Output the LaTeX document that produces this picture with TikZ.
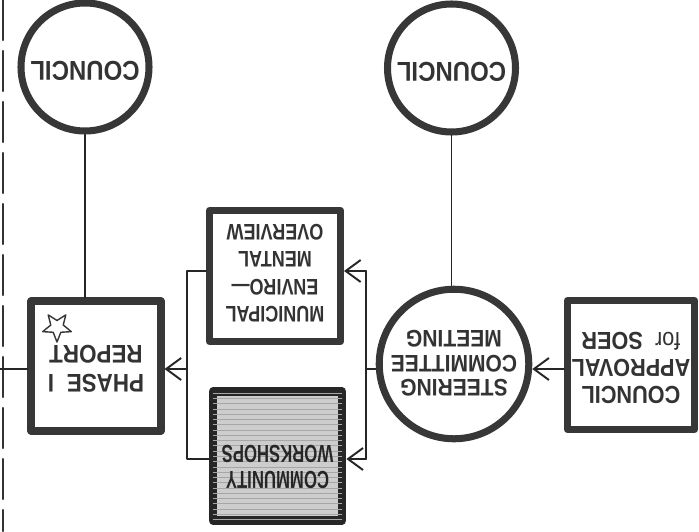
\documentclass[tikz,border=0pt]{standalone}
\usepackage{graphicx}
\usepackage{fontspec}
\usepackage{tikz}
\usetikzlibrary{arrows.meta,positioning,shapes.geometric,patterns,calc}
\newfontfamily\chartfont[FakeStretch=0.88]{Liberation Sans}
\newfontfamily\chartnarrow[FakeStretch=0.8]{Liberation Sans}
\newfontfamily\chartcond[FakeStretch=0.68]{Liberation Sans}
\definecolor{ink}{RGB}{55,55,55}
\definecolor{hatch}{RGB}{205,205,205}
% text of the chart is printed upside down
\newcommand{\flipped}[1]{\rotatebox[origin=c]{180}{\begin{tabular}{@{}c@{}}#1\end{tabular}}}
\tikzset{
  chart/box/.style={draw=ink, line width=4pt, fill=white, inner sep=0pt, minimum width=2.6cm, minimum height=2.6cm},
  chart/round/.style={draw=ink, line width=4pt, fill=white, circle, inner sep=0pt, minimum size=2.56cm},
  chart/line/.style={line width=1.1pt, draw=black!85},
  chart/arr/.style={chart/line, -{Straight Barb[length=3mm,width=4.4mm]}},
  chart/rule/.style={line width=1.2pt, draw=black!80, dash pattern=on 0.8cm off 0.22cm}
}
\begin{document}
\begin{tikzpicture}[x=1cm,y=1cm, line cap=round, line join=round]
\useasboundingbox (0,0) rectangle (13.98,-10.62);

% left margin rule
\draw[chart/rule] (0.06,0) -- (0.06,-10.62);

% top row
\node[chart/round, font=\chartfont\bfseries\fontsize{15.5}{16}\selectfont, text=black!80] (councilA) at (1.70,-1.34) {\flipped{COUNCIL}};
\node[chart/round, font=\chartfont\bfseries\fontsize{15.5}{16}\selectfont, text=black!80] (councilB) at (9.03,-1.36) {\flipped{COUNCIL}};

% middle row
\node[chart/box, font=\chartfont\bfseries\fontsize{14.5}{16.5}\selectfont, text=black!80] (phase) at (1.92,-7.32) {\flipped{PHASE\enspace I\\REPORT}};
\node[star, star points=5, star point ratio=2.3, draw=ink, line width=0.8pt, rotate=180, minimum size=0.6cm, inner sep=0pt] (star) at (1.14,-6.54) {};
\node[chart/box, font=\chartnarrow\bfseries\fontsize{12.8}{15.6}\selectfont, text=black!80, minimum width=2.62cm, minimum height=2.62cm] (municipal) at (5.50,-5.52) {\flipped{\rule{0pt}{0.58cm}MUNICIPAL\\ENVIRO\textemdash\\MENTAL\\OVERVIEW}};
\node[chart/box, draw=black!85, line width=5pt, fill=hatch, minimum width=2.58cm, minimum height=2.58cm,
      postaction={pattern=horizontal lines, pattern color=black!35}] (community) at (5.55,-9.12) {};
\node[font=\chartcond\bfseries\fontsize{14}{15}\selectfont, text=black!85] (communitytext) at (5.55,-9.28) {\flipped{COMMUNITY\\WORKSHOPS}};
\node[chart/round, minimum size=2.54cm, font=\chartfont\bfseries\fontsize{13.6}{13.8}\selectfont, text=black!80] (steering) at (9.08,-7.28) {\flipped{\rule{0pt}{0.5cm}STEERING\\COMMITTEE\\MEETING}};
\node[chart/box, minimum width=2.54cm, minimum height=2.58cm, font=\chartfont\bfseries\fontsize{14}{15.5}\selectfont, text=black!80] (approval) at (12.62,-7.30) {\flipped{COUNCIL\\APPROVAL\\{\mdseries for}\enspace SOER}};

% junctions
\coordinate (leftend) at (0,-7.38);
\coordinate (jL) at (3.74,-7.38);
\coordinate (jR) at (7.32,-7.38);
\coordinate (mjL) at (3.74,-5.42);
\coordinate (cjL) at (3.74,-9.18);
\coordinate (mjR) at (7.32,-5.42);
\coordinate (cjR) at (7.32,-9.18);

% connectors
\draw[chart/line] (councilA.south) -- (councilA.south |- phase.north);
\draw[chart/line] (councilB.south) -- (councilB.south |- steering.north);
\draw[chart/line] (leftend) -- (leftend -| phase.west);
\draw[chart/line] (municipal.west |- mjL) -- (mjL) -- (cjL) -- (community.west |- cjL);
\draw[chart/arr] (jL) -- (jL -| phase.east);
\draw[chart/line] (mjR) -- (cjR);
\draw[chart/arr] (mjR) -- (mjR -| municipal.east);
\draw[chart/arr] (cjR) -- (cjR -| community.east);
\draw[chart/line] (jR) -- (jR -| steering.west);
\draw[chart/arr] (jR -| approval.west) -- (jR -| steering.east);
\end{tikzpicture}
\end{document}
